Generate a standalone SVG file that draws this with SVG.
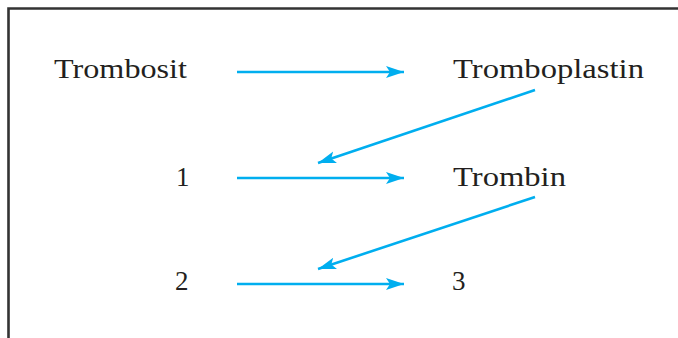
<svg xmlns="http://www.w3.org/2000/svg" width="678" height="338" viewBox="0 0 678 338">
<style>
.t{font-family:"Liberation Serif","Times New Roman",serif;font-size:27px;fill:#231f20}
.c{stroke:#00aeef;stroke-width:2.6;fill:none}
</style>
<defs>
<marker id="ah" markerUnits="userSpaceOnUse" markerWidth="20" markerHeight="14" refX="18" refY="7" orient="auto">
<path d="M0,1 L18,7 L0,13 L4,7 Z" fill="#00aeef"/>
</marker>
</defs>
<rect width="678" height="338" fill="#fff"/>
<path d="M8.5,338 V8.5 H678" fill="none" stroke="#333" stroke-width="2.6"/>
<g id="n-trombosit"><text class="t" x="54" y="78" textLength="133" lengthAdjust="spacingAndGlyphs">Trombosit</text></g>
<g id="n-tromboplastin"><text class="t" x="453" y="78" textLength="191" lengthAdjust="spacingAndGlyphs">Tromboplastin</text></g>
<g id="n-1"><text class="t" x="176" y="186">1</text></g>
<g id="n-trombin"><text class="t" x="453" y="186" textLength="113" lengthAdjust="spacingAndGlyphs">Trombin</text></g>
<g id="n-2"><text class="t" x="175" y="290">2</text></g>
<g id="n-3"><text class="t" x="452" y="290">3</text></g>
<g id="connectors">
<line class="c" x1="237" y1="72" x2="404" y2="72" marker-end="url(#ah)"/>
<line class="c" x1="535" y1="90" x2="318" y2="163" marker-end="url(#ah)"/>
<line class="c" x1="237" y1="178" x2="404" y2="178" marker-end="url(#ah)"/>
<line class="c" x1="535" y1="197" x2="318" y2="269" marker-end="url(#ah)"/>
<line class="c" x1="237" y1="284" x2="404" y2="284" marker-end="url(#ah)"/>
</g>
</svg>
